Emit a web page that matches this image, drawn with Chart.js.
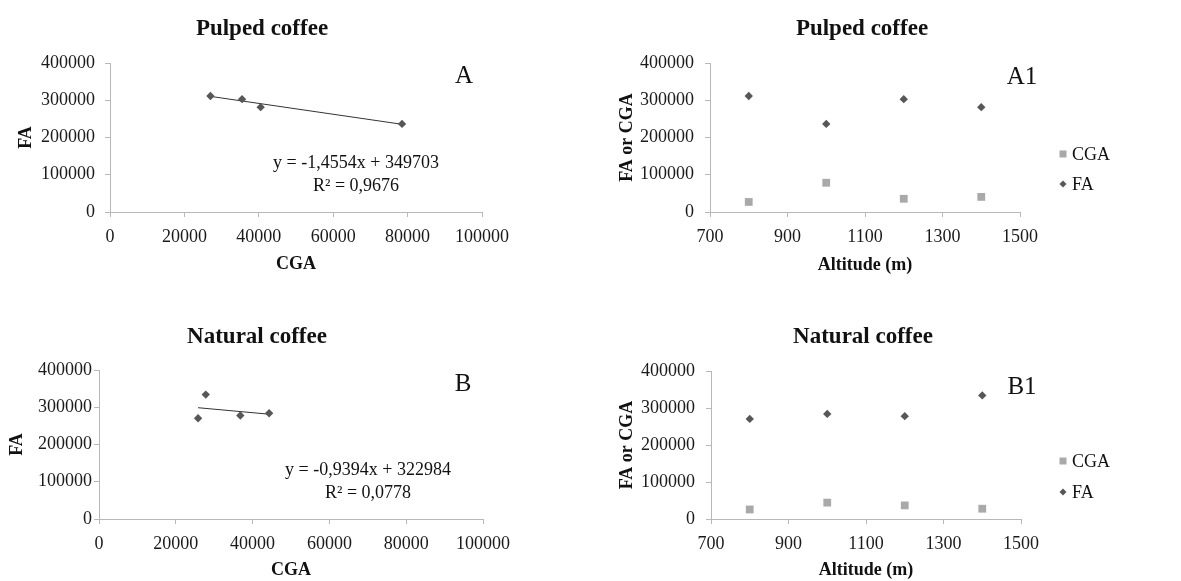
<!DOCTYPE html>
<html lang="en">
<head>
  <meta charset="UTF-8">
  <title>FA vs CGA - pulped and natural coffee</title>
  <script src="https://cdn.jsdelivr.net/npm/chart.js"></script>
  <style>
    html, body { margin: 0; padding: 0; background: #fff; }
    body { width: 1181px; height: 581px; position: relative; overflow: hidden; }
    .panel { position: absolute; }
  </style>
</head>
<body>
  <div class="panel" style="left:0;top:0;width:590px;height:290px"><canvas id="chartA"></canvas></div>
  <div class="panel" style="left:590px;top:0;width:591px;height:290px"><canvas id="chartA1"></canvas></div>
  <div class="panel" style="left:0;top:290px;width:590px;height:291px"><canvas id="chartB"></canvas></div>
  <div class="panel" style="left:590px;top:290px;width:591px;height:291px"><canvas id="chartB1"></canvas></div>

  <script>
    // values (one entry per altitude)
    const altitudes = [800, 1000, 1200, 1400];
    const pulpedCGA = [27000, 78500, 35500, 40500];
    const pulpedFA = [311500, 236500, 303000, 281500];
    const naturalCGA = [25800, 44300, 36800, 27800];
    const naturalFA = [270500, 284000, 278000, 334000];

    // linear trendlines as printed on the panels
    const pulpedFit = [-1.4554, 349703];
    const naturalFit = [-0.9394, 322984];
    const pulpedFitText = ['y = -1,4554x + 349703', 'R\u00b2 = 0,9676'];
    const naturalFitText = ['y = -0,9394x + 322984', 'R\u00b2 = 0,0778'];

    const cgaTicks = [0, 100000, 20000];
    const altTicks = [700, 1500, 200];
    const faTicks = [0, 400000, 100000];

    const SERIF = "'Liberation Serif', 'Times New Roman', serif";
    const FA_COLOR = '#575757';
    const CGA_COLOR = '#a9a9a9';
    const AXIS_COLOR = '#b8b8b8';

    Chart.defaults.font.family = SERIF;
    Chart.defaults.color = '#1a1a1a';

    // draws titles, panel letters, equations and the side legend
    const textPlugin = {
      id: 'panelText',
      afterDraw(chart, args, opts) {
        const ctx = chart.ctx;
        ctx.save();
        (opts.items || []).forEach(t => {
          ctx.font = (t.bold ? 'bold ' : '') + t.size + 'px ' + SERIF;
          ctx.fillStyle = '#111';
          ctx.textAlign = t.align || 'center';
          ctx.textBaseline = 'middle';
          ctx.fillText(t.text, t.x, t.y);
        });
        (opts.legend || []).forEach(l => {
          const ds = chart.data.datasets[l.index];
          ctx.fillStyle = ds.backgroundColor;
          ctx.beginPath();
          if (ds.pointStyle === 'rectRot') {
            ctx.moveTo(l.x, l.y - 3.5);
            ctx.lineTo(l.x + 3.5, l.y);
            ctx.lineTo(l.x, l.y + 3.5);
            ctx.lineTo(l.x - 3.5, l.y);
          } else {
            ctx.rect(l.x - 3.5, l.y - 3.5, 7, 7);
          }
          ctx.closePath();
          ctx.fill();
          ctx.font = '18px ' + SERIF;
          ctx.fillStyle = '#111';
          ctx.textAlign = 'left';
          ctx.textBaseline = 'middle';
          ctx.fillText(ds.label, l.x + 9, l.y + 1);
        });
        ctx.restore();
      }
    };

    function scales(p) {
      return {
        x: {
          type: 'linear', min: p.xr[0], max: p.xr[1],
          ticks: { stepSize: p.xr[2], font: { size: 18 }, padding: 9, maxRotation: 0, autoSkip: false, color: '#1a1a1a',
                   callback: v => String(v) },
          grid: { drawOnChartArea: false, drawTicks: true, tickLength: 5, color: AXIS_COLOR },
          border: { display: true, color: AXIS_COLOR },
          title: { display: true, text: p.xTitle, font: { size: 18, weight: 'bold' }, color: '#111',
                   padding: { top: 0, bottom: p.xTitlePad } },
          afterFit: s => { s.height = p.xHeight; }
        },
        y: {
          type: 'linear', min: faTicks[0], max: faTicks[1],
          ticks: { stepSize: faTicks[2], font: { size: 18 }, padding: p.yTickPad, color: '#1a1a1a',
                   callback: v => String(v) },
          grid: { drawOnChartArea: false, drawTicks: true, tickLength: 5, color: AXIS_COLOR },
          border: { display: true, color: AXIS_COLOR },
          title: { display: true, text: p.yTitle, font: { size: 18, weight: 'bold' }, color: '#111',
                   padding: { top: p.yTitlePad, bottom: 0 } },
          afterFit: s => { s.width = p.yWidth; }
        }
      };
    }

    function trendPoints(cga, fit) {
      const lo = Math.min(...cga), hi = Math.max(...cga);
      return [lo, hi].map(x => ({ x: x, y: fit[0] * x + fit[1] }));
    }

    function cgaChart(id, cga, fa, fit, p) {
      return new Chart(document.getElementById(id), {
        type: 'scatter',
        data: {
          datasets: [
            { label: 'FA', data: cga.map((x, i) => ({ x: x, y: fa[i] })), pointStyle: 'rectRot',
              pointRadius: 4.2, backgroundColor: FA_COLOR, borderColor: FA_COLOR, borderWidth: 0 },
            { label: 'Linear (FA)', data: trendPoints(cga, fit), showLine: true, pointRadius: 0,
              borderColor: '#333', borderWidth: 1 }
          ]
        },
        options: {
          responsive: false, animation: false,
          layout: { padding: p.pad },
          plugins: { legend: { display: false }, tooltip: { enabled: false }, panelText: { items: p.items } },
          scales: scales(p)
        },
        plugins: [textPlugin]
      });
    }

    function altChart(id, cga, fa, p) {
      return new Chart(document.getElementById(id), {
        type: 'scatter',
        data: {
          datasets: [
            { label: 'CGA', data: altitudes.map((a, i) => ({ x: a, y: cga[i] })), pointStyle: 'rect',
              pointRadius: 5.5, backgroundColor: CGA_COLOR, borderColor: CGA_COLOR, borderWidth: 0 },
            { label: 'FA', data: altitudes.map((a, i) => ({ x: a, y: fa[i] })), pointStyle: 'rectRot',
              pointRadius: 4.2, backgroundColor: FA_COLOR, borderColor: FA_COLOR, borderWidth: 0 }
          ]
        },
        options: {
          responsive: false, animation: false,
          layout: { padding: p.pad },
          plugins: { legend: { display: false }, tooltip: { enabled: false },
                     panelText: { items: p.items, legend: p.legend } },
          scales: scales(p)
        },
        plugins: [textPlugin]
      });
    }

    function sizeCanvas(id, w, h) {
      const c = document.getElementById(id);
      c.width = w; c.height = h;
      c.style.width = w + 'px'; c.style.height = h + 'px';
    }
    sizeCanvas('chartA', 590, 290);
    sizeCanvas('chartA1', 591, 290);
    sizeCanvas('chartB', 590, 291);
    sizeCanvas('chartB1', 591, 291);

    cgaChart('chartA', pulpedCGA, pulpedFA, pulpedFit, {
      xr: cgaTicks, xTitle: 'CGA', yTitle: 'FA',
      pad: { left: 0, top: 63, right: 108, bottom: 0 }, xHeight: 78, yWidth: 110,
      yTickPad: 10, xTitlePad: 15, yTitlePad: 16,
      items: [
        { text: 'Pulped coffee', x: 262, y: 29, size: 23, bold: true },
        { text: 'A', x: 464, y: 76, size: 25 },
        { text: pulpedFitText[0], x: 356, y: 163, size: 18 },
        { text: pulpedFitText[1], x: 356, y: 186, size: 18 }
      ]
    });

    cgaChart('chartB', naturalCGA, naturalFA, naturalFit, {
      xr: cgaTicks, xTitle: 'CGA', yTitle: 'FA',
      pad: { left: 0, top: 80, right: 107, bottom: 0 }, xHeight: 62, yWidth: 99,
      yTickPad: 2, xTitlePad: 0, yTitlePad: 7,
      items: [
        { text: 'Natural coffee', x: 257, y: 47, size: 23, bold: true },
        { text: 'B', x: 463, y: 94, size: 25 },
        { text: naturalFitText[0], x: 368, y: 180, size: 18 },
        { text: naturalFitText[1], x: 368, y: 203, size: 18 }
      ]
    });

    altChart('chartA1', pulpedCGA, pulpedFA, {
      xr: altTicks, xTitle: 'Altitude (m)', yTitle: 'FA or CGA',
      pad: { left: 0, top: 63, right: 161, bottom: 0 }, xHeight: 78, yWidth: 120,
      yTickPad: 11, xTitlePad: 14, yTitlePad: 27,
      items: [
        { text: 'Pulped coffee', x: 272, y: 29, size: 23, bold: true },
        { text: 'A1', x: 432, y: 77, size: 25 }
      ],
      legend: [{ index: 0, x: 473, y: 154 }, { index: 1, x: 473, y: 184 }]
    });

    altChart('chartB1', naturalCGA, naturalFA, {
      xr: altTicks, xTitle: 'Altitude (m)', yTitle: 'FA or CGA',
      pad: { left: 0, top: 81, right: 160, bottom: 0 }, xHeight: 62, yWidth: 121,
      yTickPad: 11, xTitlePad: 0, yTitlePad: 27,
      items: [
        { text: 'Natural coffee', x: 273, y: 47, size: 23, bold: true },
        { text: 'B1', x: 432, y: 97, size: 25 }
      ],
      legend: [{ index: 0, x: 473, y: 171 }, { index: 1, x: 473, y: 202 }]
    });
  </script>
</body>
</html>
